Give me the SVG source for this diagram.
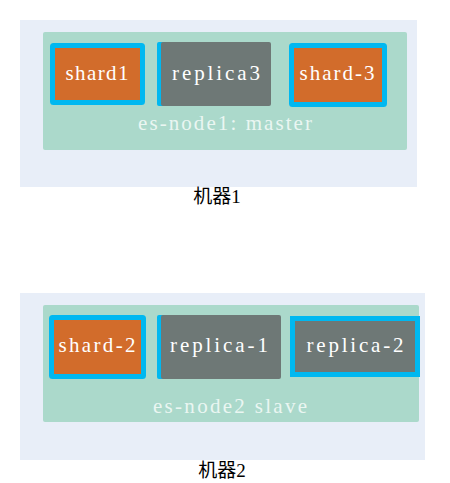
<svg xmlns="http://www.w3.org/2000/svg" width="450" height="483" viewBox="0 0 450 483">
<style>
.machine{fill:#e8eef8}
.node{fill:#abd9cb}
.shard{fill:#d26c2b;stroke:#00b8f0;stroke-width:5}
.rep{fill:#6e7876}
.edge{fill:#00b8f0}
.t{font-family:"Liberation Serif","DejaVu Serif",serif;font-size:21px;fill:#ffffff;text-anchor:middle}
.lbl{font-family:"Liberation Serif","DejaVu Serif",serif;font-size:21px;fill:#eaf6f2;text-anchor:middle}
.cap{font-family:"Liberation Serif","Noto Sans CJK SC",serif;font-size:19px;fill:#000;text-anchor:middle}
</style>
<g id="machine1">
<rect class="machine" x="20" y="20" width="397" height="167"/>
<text class="cap" x="217" y="203">机器1</text>
</g>
<g id="es-node1">
<rect class="node" x="43" y="32" width="364" height="118" rx="2"/>
<text class="lbl" x="225" y="130" textLength="174">es-node1: master</text>
</g>
<g id="shard1">
<rect class="shard" x="52.5" y="45.5" width="90" height="57" rx="1"/>
<text class="t" x="97" y="80" textLength="63">shard1</text>
</g>
<g id="replica3">
<rect class="edge" x="157" y="42" width="110" height="64" rx="2"/>
<rect class="rep" x="161" y="42" width="110" height="64" rx="2"/>
<text class="t" x="216" y="80" textLength="88">replica3</text>
</g>
<g id="shard-3">
<rect class="shard" x="291.5" y="45.5" width="93" height="59" rx="1"/>
<text class="t" x="337" y="80" textLength="75">shard-3</text>
</g>
<g id="machine2">
<rect class="machine" x="20" y="293" width="405" height="167"/>
<text class="cap" x="222" y="477">机器2</text>
</g>
<g id="es-node2">
<rect class="node" x="43" y="305" width="376" height="117" rx="2"/>
<text class="lbl" x="230" y="413" textLength="154">es-node2 slave</text>
</g>
<g id="shard-2">
<rect class="shard" x="51.5" y="317.5" width="92" height="59" rx="1"/>
<text class="t" x="97" y="352" textLength="77">shard-2</text>
</g>
<g id="replica-1">
<rect class="edge" x="157" y="315" width="120" height="64" rx="2"/>
<rect class="rep" x="161" y="315" width="120" height="64" rx="2"/>
<text class="t" x="219" y="352" textLength="98">replica-1</text>
</g>
<g id="replica-2">
<rect class="rep" x="292.5" y="318.5" width="125" height="56" style="stroke:#00b8f0;stroke-width:5"/>
<text class="t" x="355" y="352" textLength="97">replica-2</text>
</g>
<g id="connectors"></g>
</svg>
